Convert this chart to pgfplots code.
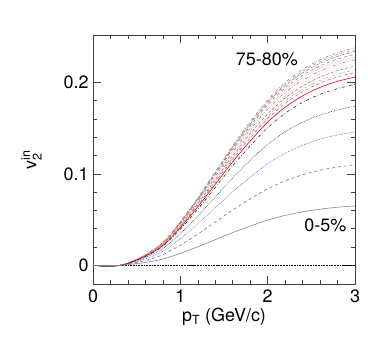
\documentclass[border=0pt]{standalone}
\usepackage{fontspec}
\setmainfont{TeX Gyre Heros}
\usepackage{amsmath}
\usepackage{pgfplots}
\usepackage{pgfplotstable}
\pgfplotsset{compat=1.18}

% v2 vs pT, one column per centrality class (0-5% ... 75-80%)
\pgfplotstableread{
pt   c1      c2      c3      c4      c5      c6      c7      c8      c9      c10     c11     c12     c13     c14     c15     c16
0.0  0.0000  0.0000  0.0000  0.0000  0.0000  0.0000  0.0000  0.0000  0.0000  0.0000  0.0000  0.0000  0.0000  0.0000  0.0000  0.0000
0.1 -0.0003 -0.0004 -0.0006 -0.0007 -0.0008 -0.0008 -0.0008 -0.0009 -0.0009 -0.0009 -0.0009 -0.0009 -0.0009 -0.0009 -0.0009 -0.0010
0.2 -0.0003 -0.0006 -0.0007 -0.0009 -0.0010 -0.0010 -0.0011 -0.0011 -0.0011 -0.0011 -0.0011 -0.0011 -0.0012 -0.0012 -0.0012 -0.0012
0.3 -0.0001 -0.0001 -0.0001 -0.0002 -0.0002 -0.0002 -0.0002 -0.0002 -0.0002 -0.0002 -0.0002 -0.0002 -0.0002 -0.0002 -0.0002 -0.0002
0.4  0.0007  0.0011  0.0015  0.0017  0.0020  0.0021  0.0021  0.0021  0.0022  0.0022  0.0023  0.0023  0.0023  0.0023  0.0024  0.0024
0.6  0.0031  0.0053  0.0070  0.0084  0.0095  0.0099  0.0101  0.0103  0.0105  0.0106  0.0108  0.0109  0.0111  0.0112  0.0113  0.0114
0.8  0.0068  0.0116  0.0153  0.0183  0.0208  0.0216  0.0222  0.0225  0.0229  0.0232  0.0236  0.0239  0.0243  0.0246  0.0248  0.0250
1.0  0.0130  0.0220  0.0292  0.0348  0.0396  0.0412  0.0422  0.0428  0.0436  0.0442  0.0450  0.0456  0.0462  0.0468  0.0472  0.0476
1.2  0.0202  0.0341  0.0453  0.0539  0.0614  0.0639  0.0654  0.0663  0.0676  0.0685  0.0698  0.0707  0.0716  0.0725  0.0732  0.0738
1.4  0.0280  0.0473  0.0628  0.0748  0.0851  0.0886  0.0907  0.0920  0.0937  0.0950  0.0968  0.0980  0.0993  0.1006  0.1015  0.1023
1.6  0.0358  0.0605  0.0803  0.0957  0.1089  0.1133  0.1161  0.1177  0.1199  0.1216  0.1238  0.1254  0.1271  0.1287  0.1298  0.1309
1.8  0.0429  0.0726  0.0964  0.1148  0.1307  0.1360  0.1393  0.1412  0.1439  0.1459  0.1485  0.1505  0.1525  0.1544  0.1558  0.1571
2.0  0.0494  0.0836  0.1110  0.1322  0.1505  0.1566  0.1604  0.1626  0.1657  0.1680  0.1710  0.1733  0.1756  0.1778  0.1794  0.1809
2.2  0.0546  0.0924  0.1226  0.1462  0.1663  0.1730  0.1772  0.1798  0.1831  0.1856  0.1890  0.1915  0.1940  0.1966  0.1982  0.1999
2.4  0.0585  0.0990  0.1314  0.1566  0.1782  0.1854  0.1899  0.1926  0.1962  0.1989  0.2025  0.2052  0.2079  0.2106  0.2124  0.2142
2.6  0.0614  0.1040  0.1380  0.1644  0.1871  0.1947  0.1994  0.2022  0.2060  0.2088  0.2126  0.2155  0.2183  0.2211  0.2230  0.2249
2.8  0.0635  0.1075  0.1426  0.1700  0.1934  0.2013  0.2061  0.2091  0.2130  0.2159  0.2198  0.2228  0.2257  0.2286  0.2306  0.2325
3.0  0.0650  0.1100  0.1460  0.1740  0.1980  0.2060  0.2110  0.2140  0.2180  0.2210  0.2250  0.2280  0.2310  0.2340  0.2360  0.2380
}\vtwo

\definecolor{slate}{rgb}{0.45,0.55,0.60}
\definecolor{rosegray}{rgb}{0.62,0.50,0.50}
\definecolor{pinkish}{rgb}{0.90,0.62,0.62}
\definecolor{lgray}{rgb}{0.62,0.62,0.62}

\begin{document}
\begin{tikzpicture}
\path[use as bounding box] (0,0) rectangle (374bp,355bp);
\begin{axis}[
    at={(93bp,71bp)}, anchor=south west,
    width=262bp, height=249bp, scale only axis,
    xmin=0, xmax=3, ymin=-0.0205, ymax=0.252,
    xtick={0,1,2,3}, ytick={0,0.1,0.2},
    minor x tick num=4, minor y tick num=4,
    tick align=inside, ticks=both,
    major tick length=8bp, minor tick length=4bp,
    xtick pos=both, ytick pos=both,
    axis line style={black!75, line width=0.8pt},
    every tick/.style={black!75, line width=0.6pt},
    font=\fontsize{18}{20}\selectfont,
    /pgf/number format/assume math mode=true,
    xticklabel style={yshift=-2bp},
    yticklabel style={/pgf/number format/fixed, xshift=-1bp},
    scaled y ticks=false,
    xlabel={p$_{\text{T}}$ (GeV/c)},
    ylabel={$\text{v}_{\text{2}}^{\text{in}}$},
    xlabel style={at={(axis description cs:0.5,-0.13)}, anchor=center},
    ylabel style={at={(axis description cs:-0.235,0.5)}, anchor=center},
    every axis plot/.append style={line width=0.6pt, smooth},
    clip=true,
]
\addplot[black, densely dotted, line width=0.5pt] coordinates {(0,0) (3,0)};
\addplot[rosegray, dash dot] table[x=pt, y=c16] {\vtwo};
\addplot[lgray, dashed] table[x=pt, y=c15] {\vtwo};
\addplot[rosegray, densely dash dot] table[x=pt, y=c14] {\vtwo};
\addplot[rosegray, dashed] table[x=pt, y=c13] {\vtwo};
\addplot[pinkish, densely dotted] table[x=pt, y=c12] {\vtwo};
\addplot[rosegray, dash dot dot] table[x=pt, y=c11] {\vtwo};
\addplot[pinkish, dotted] table[x=pt, y=c10] {\vtwo};
\addplot[rosegray, densely dashed] table[x=pt, y=c9] {\vtwo};
\addplot[pinkish, dash dot] table[x=pt, y=c8] {\vtwo};
\addplot[rosegray, dashed] table[x=pt, y=c7] {\vtwo};
\addplot[red, solid] table[x=pt, y=c6] {\vtwo};
\addplot[black!80, dash dot] table[x=pt, y=c5] {\vtwo};
\addplot[black!80, densely dotted] table[x=pt, y=c4] {\vtwo};
\addplot[blue!70, densely dotted] table[x=pt, y=c3] {\vtwo};
\addplot[black!55, dashed] table[x=pt, y=c2] {\vtwo};
\addplot[slate, solid] table[x=pt, y=c1] {\vtwo};
\node at (axis cs:1.99,0.2255) {75-80\%};
\node at (axis cs:2.66,0.044) {0-5\%};
\end{axis}
\end{tikzpicture}
\end{document}
